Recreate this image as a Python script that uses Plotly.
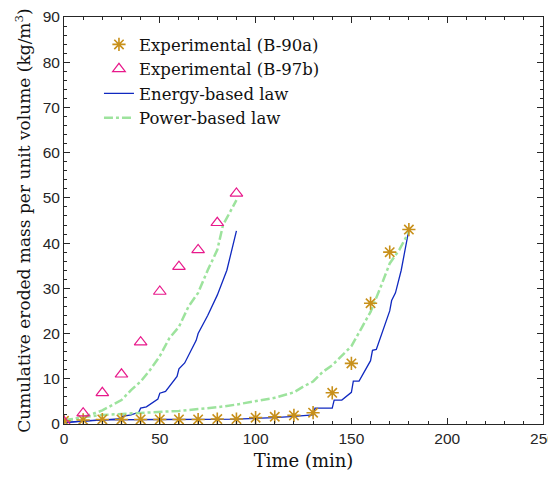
import plotly.graph_objects as go

# Experimental data
t_exp_90a = [0, 10, 20, 30, 40, 50, 60, 70, 80, 90, 100, 110, 120, 130, 140, 150, 160, 170, 180]
m_exp_90a = [0.7, 0.9, 1.0, 1.0, 1.0, 1.0, 1.0, 1.0, 1.1, 1.1, 1.4, 1.6, 1.9, 2.5, 6.9, 13.4, 26.7, 38.0, 43.0]

t_exp_97b = [0, 10, 20, 30, 40, 50, 60, 70, 80, 90]
m_exp_97b = [0.5, 2.4, 6.9, 11.0, 18.1, 29.3, 34.8, 38.5, 44.5, 51.0]

# Energy-based law
t_en_97b = [0, 10, 20, 30, 30.5, 35, 39, 40, 43, 49, 50, 53, 59, 60, 63, 69, 70, 75, 80, 85, 90]
m_en_97b = [0.3, 0.6, 0.9, 1.2, 1.7, 2.0, 2.6, 3.5, 3.8, 5.5, 6.8, 7.2, 10.5, 12.2, 13.5, 18.5, 20.0, 24.0, 28.5, 34.0, 42.7]

t_en_90a = [0, 10, 20, 30, 50, 90, 100, 110, 120, 130, 131, 140, 141, 145, 150, 151, 154, 160, 161, 163, 170, 171, 173, 176, 180]
m_en_90a = [0.3, 0.7, 0.9, 0.9, 1.0, 1.1, 1.2, 1.4, 1.7, 2.0, 3.5, 3.5, 5.3, 5.3, 7.0, 9.5, 9.5, 14.0, 16.3, 16.5, 25.0, 27.3, 29.0, 34.0, 43.0]

# Power-based law
t_pw_97b = [0, 10, 20, 30, 35, 40, 45, 50, 55, 60, 65, 70, 75, 80, 83, 86, 90]
m_pw_97b = [0.7, 1.5, 3.0, 5.3, 7.5, 9.4, 12.0, 15.0, 19.0, 21.5, 26.0, 29.0, 34.0, 38.5, 44.0, 46.5, 49.5]

t_pw_90a = [0, 10, 20, 30, 40, 50, 60, 70, 80, 90, 100, 110, 120, 125, 130, 135, 140, 145, 150, 155, 160, 165, 170, 175, 180]
m_pw_90a = [0.8, 1.5, 2.0, 2.2, 2.4, 2.6, 2.9, 3.3, 3.7, 4.3, 5.0, 5.8, 7.0, 8.3, 9.4, 11.5, 13.0, 15.0, 17.2, 21.0, 24.8, 30.0, 35.5, 38.5, 42.5]

BLUE = "#1029c0"
GREEN = "#9de39d"
GOLD = "#c8901a"
MAGENTA = "#e8198b"
SERIF = "DejaVu Serif"
SANS = "Liberation Sans"

fig = go.Figure()

fig.add_trace(go.Scatter(x=t_en_97b, y=m_en_97b, mode="lines", name="Energy-based law",
                         line=dict(color=BLUE, width=1.3), legendgroup="en", legendrank=3))
fig.add_trace(go.Scatter(x=t_en_90a, y=m_en_90a, mode="lines", name="Energy-based law",
                         line=dict(color=BLUE, width=1.3), legendgroup="en", showlegend=False))
fig.add_trace(go.Scatter(x=t_pw_97b, y=m_pw_97b, mode="lines", name="Power-based law",
                         line=dict(color=GREEN, width=2.5, dash="dashdot"), legendgroup="pw", legendrank=4))
fig.add_trace(go.Scatter(x=t_pw_90a, y=m_pw_90a, mode="lines", name="Power-based law",
                         line=dict(color=GREEN, width=2.5, dash="dashdot"), legendgroup="pw", showlegend=False))
fig.add_trace(go.Scatter(x=t_exp_90a, y=m_exp_90a, mode="markers", name="Experimental (B-90a)",
                         marker=dict(symbol="asterisk-open", size=11, color=GOLD, line=dict(color=GOLD, width=1.6)),
                         legendrank=1))
fig.add_trace(go.Scatter(x=t_exp_97b, y=m_exp_97b, mode="markers", name="Experimental (B-97b)",
                         marker=dict(symbol="triangle-up-open", size=11, color=MAGENTA, line=dict(color=MAGENTA, width=1.2)),
                         legendrank=2))

axis_common = dict(
    showline=True, linecolor="#262626", linewidth=1, mirror="ticks",
    ticks="inside", ticklen=6, tickcolor="#262626", showgrid=False, zeroline=False,
    tickfont=dict(family=SANS, size=15.5, color="#262626"), automargin=False,
    ticklabeloverflow="allow",
)

fig.update_xaxes(range=[0, 250], dtick=50,
                 minor=dict(ticks="inside", ticklen=3, dtick=10, tickcolor="#262626"),
                 title=dict(text="Time (min)", font=dict(family=SERIF, size=18, color="#111"), standoff=17),
                 **axis_common)
fig.update_yaxes(range=[0, 90], dtick=10,
                 minor=dict(ticks="inside", ticklen=3, dtick=2, tickcolor="#262626"),
                 title=dict(text="Cumulative eroded mass per unit volume (kg/m<sup>3</sup>)",
                            font=dict(family=SERIF, size=17, color="#111"), standoff=7),
                 **axis_common)

# the page body adds an 8px offset on every side; figure sized so the page does not
# overflow the 556x479 window and the plot box lands at x 64-543, y 17-424 on screen
fig.update_layout(
    width=548, height=463,
    margin=dict(l=56, r=13, t=9, b=47),
    plot_bgcolor="white", paper_bgcolor="white",
    legend=dict(x=0.073, y=0.975, xanchor="left", yanchor="top",
                bgcolor="rgba(0,0,0,0)", font=dict(family=SERIF, size=16.5, color="#111"),
                tracegroupgap=0),
)

fig.write_html("out.html")
